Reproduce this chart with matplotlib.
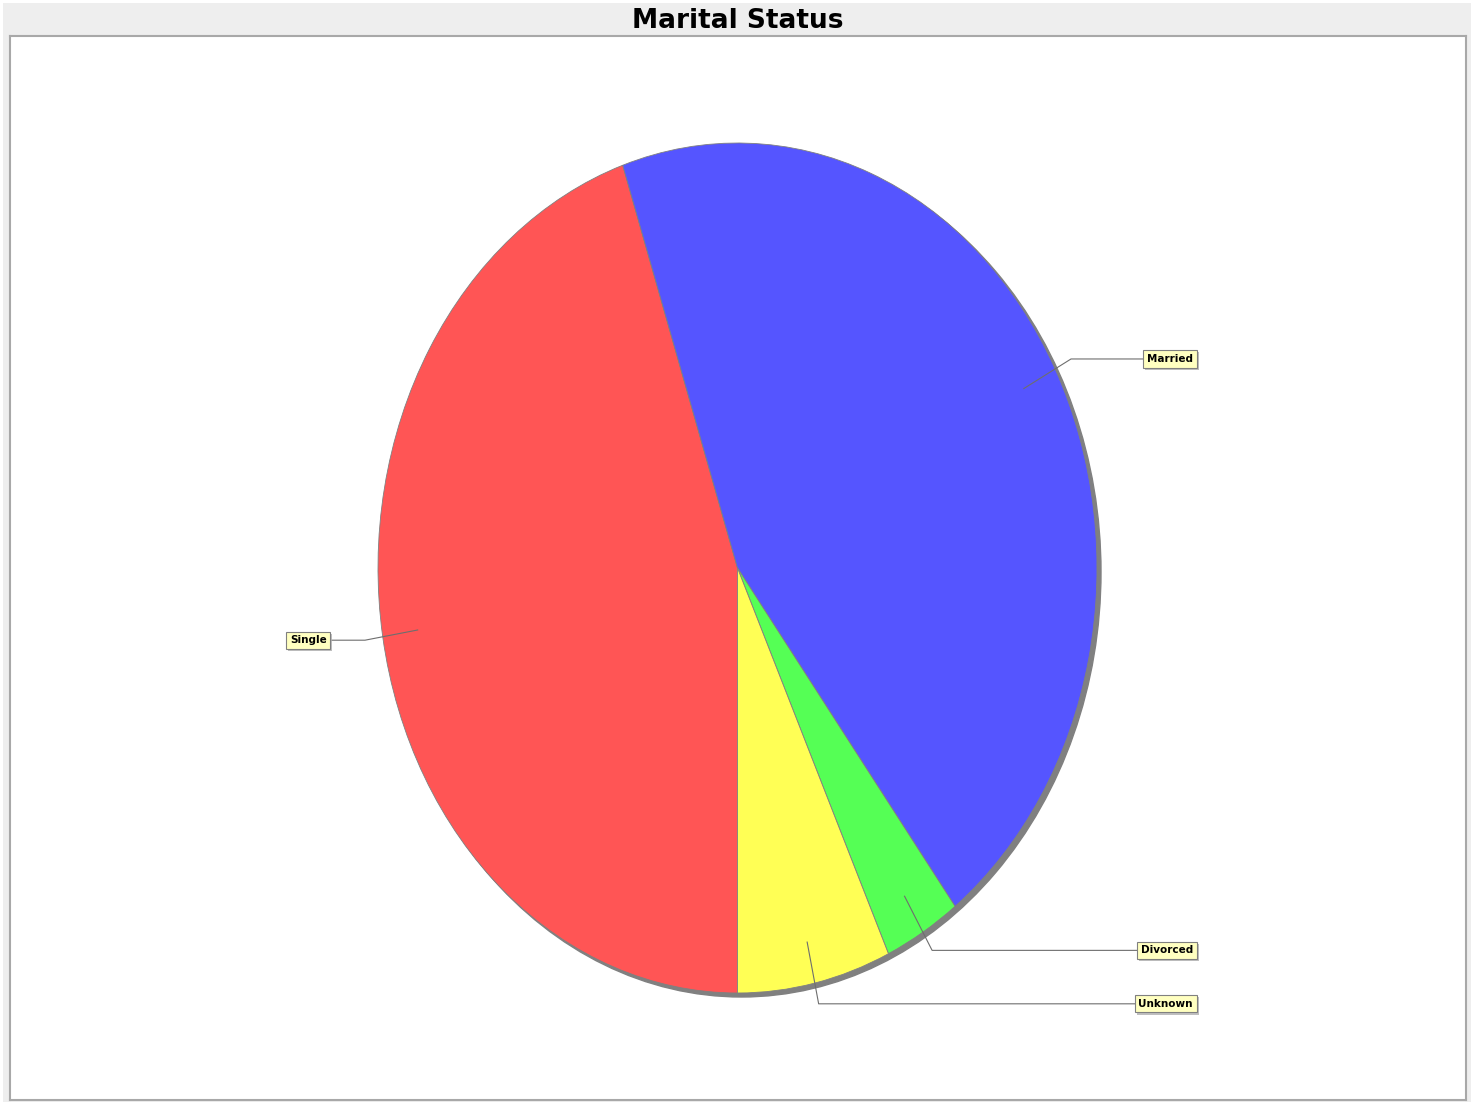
import numpy as np
import matplotlib
matplotlib.use('Agg')
import matplotlib.pyplot as plt
import matplotlib.patheffects as pe
from matplotlib.patches import Ellipse

# data (clockwise from the bottom)
labels = ['Single', 'Married', 'Divorced', 'Unknown']
counts = [13, 13, 1, 2]
colors = ['#FF5555', '#5555FF', '#55FF55', '#FFFF55']

W, H = 1479, 1102
fig = plt.figure(figsize=(W / 100, H / 100), dpi=100, facecolor='white')

# chart background (light grey) and title
bg = fig.add_axes([3 / W, 0, 1468 / W, 1 - 3 / H])
bg.set_facecolor('#EEEEEE')
bg.set_xticks([])
bg.set_yticks([])
for s in bg.spines.values():
    s.set_visible(False)
fig.text(738 / W, 1 - 21 / H, 'Marital Status', ha='center', va='center',
         fontsize=19, fontweight='bold', family='DejaVu Sans')

# plot area, pixel box x 10..1466, y 36..1100
px0, px1, py0, py1 = 10, 1466, 36, 1100
ax = fig.add_axes([px0 / W, 1 - py1 / H, (px1 - px0) / W, (py1 - py0) / H])

# pie ellipse: centre (737.5, 568) px, radii 359.5 x 425 px
cx, cy, rx, ry = 737.5, 568, 359.5, 425

# shadow
ax.add_patch(Ellipse((4 / rx, -4 / ry), 2, 2, color='#808080', zorder=1))

wedges, _ = ax.pie(counts, colors=colors, startangle=-90, counterclock=False,
                   radius=1, wedgeprops=dict(edgecolor='#808080', linewidth=0.6))
for w in wedges:
    w.set_zorder(2)

ax.set_frame_on(True)
ax.set_facecolor('white')
for s in ax.spines.values():
    s.set_color('#A8A8A8')
    s.set_linewidth(1.5)
ax.set_aspect('auto')
ax.set_xlim((px0 - cx) / rx, (px1 - cx) / rx)
ax.set_ylim((cy - py1) / ry, (cy - py0) / ry)
ax.set_xticks([])
ax.set_yticks([])

# labels with link lines
right_x = (1193 - cx) / rx
left_x = (290 - cx) / rx
total = sum(counts)
ang = -90.0
for lab, c in zip(labels, counts):
    span = 360.0 * c / total
    mid = np.deg2rad(ang - span / 2)
    ang -= span
    x0, y0 = 0.9 * np.cos(mid), 0.9 * np.sin(mid)
    x1, y1 = 1.05 * np.cos(mid), 1.05 * np.sin(mid)
    if np.cos(mid) >= 0:
        xe, ha = right_x, 'right'
    else:
        xe, ha = left_x, 'left'
    ax.plot([x0, x1, xe], [y0, y1, y1], color='#6E6E6E', lw=0.8, zorder=3,
            solid_capstyle='butt')
    t = ax.text(xe, y1, lab, ha=ha, va='center', fontsize=7.5, fontweight='bold',
                family='DejaVu Sans', zorder=5,
                bbox=dict(boxstyle='square,pad=0.35', fc='#FFFFC0', ec='#808080', lw=0.8))
    t.get_bbox_patch().set_path_effects([
        pe.SimplePatchShadow(offset=(1.5, -1.5), shadow_rgbFace='#B0B0B0', alpha=0.8),
        pe.Normal()])

fig.savefig('out.png', dpi=100, facecolor=fig.get_facecolor())
